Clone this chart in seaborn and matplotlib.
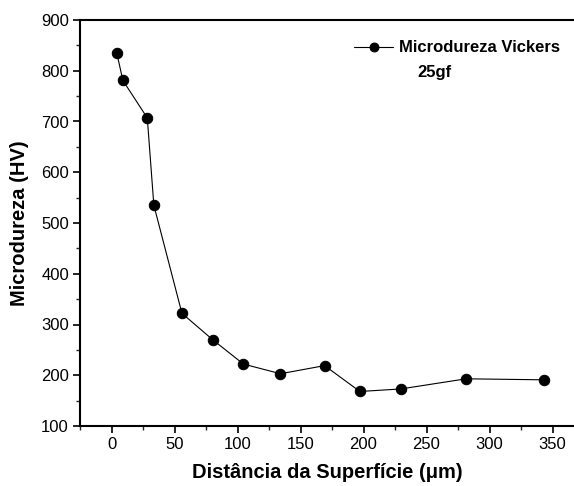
import matplotlib
matplotlib.use("Agg")
import matplotlib.pyplot as plt
import seaborn as sns
import pandas as pd
from matplotlib.ticker import MultipleLocator

distance = [4.2, 9.0, 28.4, 33.6, 55.9, 80.3, 104.7, 134.1, 169.1, 197.1, 229.5, 281.4, 342.9]
hardness = [835, 781, 707, 535, 322, 270, 222, 203, 219, 168, 173, 193, 191]
series_label = "Microdureza Vickers"
load_label = "25gf"
x_ticks = [0, 50, 100, 150, 200, 250, 300, 350]
y_ticks = [100, 200, 300, 400, 500, 600, 700, 800, 900]

df = pd.DataFrame({"x": distance, "y": hardness})

sns.set_theme(style="white")
plt.rcParams['font.family'] = ['Liberation Sans', 'DejaVu Sans']
plt.rcParams['text.color'] = 'black'
plt.rcParams['axes.labelcolor'] = 'black'

fig = plt.figure(figsize=(5.74, 4.86), dpi=100)
ax = fig.add_axes([80/574, 1 - 426/486, 1 - 80/574, 406/486])

sns.lineplot(data=df, x="x", y="y", ax=ax, color="black", linewidth=0.8,
             marker="o", markersize=7.5, markeredgecolor="black",
             markerfacecolor="black", label=series_label, sort=False)

ax.set_xlim(-25, 367)
ax.set_ylim(100, 900)
ax.set_xticks(x_ticks)
ax.set_yticks(y_ticks)
ax.xaxis.set_minor_locator(MultipleLocator(25))
ax.yaxis.set_minor_locator(MultipleLocator(50))
ax.tick_params(axis="both", which="major", direction="out", length=5, width=1.2,
               labelsize=12, colors="black", bottom=True, left=True, pad=3)
ax.tick_params(axis="both", which="minor", direction="out", length=3, width=1.0,
               bottom=True, left=True)
for side in ["left", "bottom", "top"]:
    ax.spines[side].set_linewidth(1.5)
    ax.spines[side].set_color("black")
ax.spines["right"].set_visible(False)

ax.set_xlabel("Distância da Superfície (μm)", fontsize=14.5, fontweight="bold",
              labelpad=8, color="black")
ax.set_ylabel("Microdureza (HV)", fontsize=14.5, fontweight="bold", labelpad=9,
              color="black")

leg = ax.legend(loc="center left", bbox_to_anchor=(354/574, 1 - 48/486),
                bbox_transform=fig.transFigure, frameon=False,
                prop={"weight": "bold", "size": 12}, handlelength=2.35,
                handletextpad=0.36, borderpad=0, borderaxespad=0, markerscale=0.85,
                labelcolor="black")
ax.text(417/574, 1 - 72/486, load_label, transform=fig.transFigure,
        fontsize=12, fontweight="bold", va="center", ha="left", color="black")

fig.savefig("out.png", dpi=100)
